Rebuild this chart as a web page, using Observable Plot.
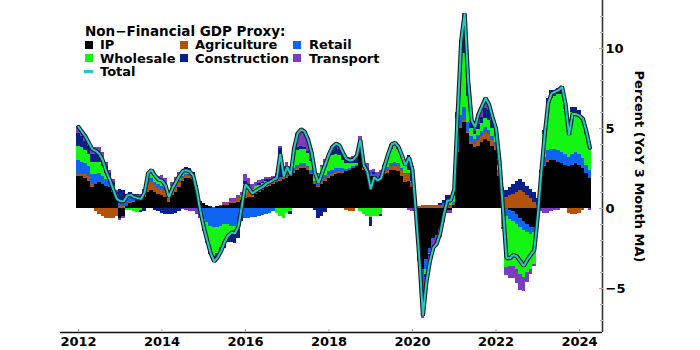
<!DOCTYPE html>
<html><head><meta charset="utf-8">
<script src="https://cdn.jsdelivr.net/npm/d3@7"></script>
<script src="https://cdn.jsdelivr.net/npm/@observablehq/plot@0.6"></script>
<style>
body{margin:0;background:#fff;}
#wrap{position:relative;width:700px;height:350px;font-family:"DejaVu Sans",sans-serif;font-weight:bold;color:#000;}
#wrap svg{position:absolute;left:0;top:0;}
.lg{position:absolute;font-size:13px;line-height:13px;height:13px;white-space:nowrap;}
.sw{position:absolute;width:8px;height:8px;}
</style></head>
<body><div id="wrap"></div>
<script>
// Monthly, Jan 2012 .. Apr 2024 (percent contribution, YoY 3-month MA)
const startYear = 2012;
const seriesNames = ["IP","Agriculture","Retail","Wholesale","Construction","Transport"];
const seriesColors = ["#000000","#b3520a","#0d63f2","#14f514","#0a1f8c","#7a3dbf"];
const totalColor = "#22c8c8";
const yearTicks = [2012,2014,2016,2018,2020,2022,2024];
const yMajorTicks = [-5,0,5,10];
const yMinorTicks = [-7,-6,-4,-3,-2,-1,1,2,3,4,6,7,8,9,11,12];
const yLabel = "Percent (YoY 3 Month MA)";

const ip = [
 2.0,2.0,1.9,1.7,1.3,1.5,1.6,1.5,1.4,1.3,1.0,0.7,
 -0.6,-0.5,0.1,0.3,0.4,0.5,0.5,0.7,1.0,1.1,1.0,0.9,
 0.8,0.7,0.4,0.8,1.0,1.3,1.7,1.9,1.9,1.8,1.2,0.4,
 0.3,0.2,0.1,0.0,0.1,0.1,0.2,0.2,0.3,0.3,0.4,0.5,
 0.6,0.7,0.7,0.9,1.0,1.1,1.3,1.4,1.5,1.6,1.7,1.8,
 1.9,2.0,2.2,2.4,2.5,2.5,2.4,2.1,1.5,1.3,1.5,1.7,
 1.9,2.0,2.1,2.2,2.2,2.3,2.4,2.5,2.6,3.6,2.4,2.2,
 2.0,2.0,1.9,2.0,2.1,2.2,2.4,2.4,2.3,2.0,1.6,1.7,
 1.3,-0.3,-2.5,-3.8,-3.2,-2.5,-1.9,-1.7,-1.3,-0.6,-0.1,-0.1,
 0.2,3.5,5.0,5.4,4.7,4.0,3.8,3.9,4.1,4.3,4.2,3.9,
 3.6,2.0,0.3,0.0,-0.1,-0.2,-0.4,-0.6,-0.8,-1.0,-1.2,-1.2,
 -0.4,1.3,2.6,2.9,3.0,3.0,2.9,2.8,2.7,2.6,2.7,2.8,
 2.7,2.5,2.2,1.9];
const agriculture = [
 0.1,0.1,0.2,0.3,0.2,-0.2,-0.4,-0.5,-0.6,-0.6,-0.6,-0.5,
 0.1,0.1,0.05,0.05,0.05,0.05,0.1,0.3,0.5,0.5,0.45,0.4,
 0.4,0.4,0.3,0.3,0.3,0.3,0.2,0.15,0.1,0.1,0.05,0.0,
 0.0,0.0,0.0,0.05,0.05,0.05,0.1,0.1,0.15,0.15,0.2,0.2,
 0.3,0.3,0.2,0.2,0.15,0.15,0.15,0.1,0.1,0.1,0.1,0.15,
 0.15,0.1,0.1,0.1,0.1,0.1,0.1,0.1,0.1,0.1,0.15,0.15,
 0.15,0.15,0.15,0.1,0.1,-0.1,-0.2,-0.2,0.0,0.1,0.1,0.1,
 0.05,0.05,0.05,0.1,0.15,0.2,0.25,0.3,0.35,0.4,0.5,0.4,
 0.2,0.1,0.1,0.2,0.2,0.2,0.2,0.2,0.2,0.2,0.15,0.1,
 0.1,0.1,0.1,0.1,0.1,0.2,0.2,0.35,0.4,0.45,0.4,0.35,
 0.3,0.3,0.5,0.7,0.8,0.9,1.0,1.1,1.0,0.8,0.6,0.4,
 0.2,0.1,0.1,0.1,0.0,0.0,0.0,0.0,0.0,-0.3,-0.4,-0.4,
 -0.3,-0.1,0.0,0.0];
const retail = [
 0.9,0.8,0.7,0.6,0.6,0.6,0.6,0.5,0.4,0.4,0.3,0.2,
 0.4,0.4,0.4,0.35,0.3,0.25,0.2,0.2,0.3,0.25,0.2,0.2,
 0.2,0.2,0.1,0.1,0.15,0.15,0.1,0.1,0.1,0.05,-0.1,-0.4,
 -0.7,-0.9,-1.1,-1.2,-1.2,-1.1,-1.0,-1.0,-1.1,-1.1,-1.0,-0.5,
 -0.6,-0.6,-0.55,-0.55,-0.5,-0.45,-0.4,-0.3,-0.2,0.1,0.15,0.15,
 0.2,0.2,0.2,0.2,0.2,0.2,0.15,0.15,0.1,0.15,0.2,0.2,
 0.25,0.25,0.25,0.2,0.2,0.15,0.1,0.1,0.1,0.1,0.1,0.1,
 0.05,0.1,0.1,0.1,0.1,0.15,0.15,0.15,0.15,0.1,0.1,0.1,
 0.1,0.1,-0.3,-1.2,-0.6,-0.3,-0.1,0.0,0.0,0.1,0.1,0.1,
 0.1,0.5,0.7,0.8,0.6,0.3,0.3,0.3,0.3,0.3,0.3,0.25,
 0.2,0.1,-0.3,-0.5,-0.6,-0.6,-0.6,-0.6,-0.6,-0.5,-0.4,-0.3,
 -0.1,0.3,0.5,0.6,0.7,0.7,0.7,0.7,0.7,0.6,0.7,0.7,
 0.7,0.6,0.5,0.5];
const wholesale = [
 0.9,0.9,0.8,0.8,0.8,0.8,0.7,0.6,0.4,0.2,0.1,0.0,
 0.0,0.0,-0.1,-0.15,-0.2,-0.25,-0.15,0.0,0.3,0.35,0.3,0.3,
 0.3,0.2,0.1,0.2,0.3,0.4,0.4,0.3,0.3,0.2,0.1,0.0,
 -0.6,-1.0,-1.5,-1.8,-1.6,-1.35,-1.05,-0.7,-0.5,-0.4,-0.3,0.1,
 0.6,0.4,0.3,0.3,0.3,0.3,0.25,0.2,0.1,-0.3,-0.5,-0.6,
 -0.3,-0.2,0.6,0.9,0.9,0.9,0.8,0.6,0.4,0.6,0.7,0.8,
 0.8,0.9,0.9,0.8,0.5,0.35,0.3,0.2,0.1,-0.2,-0.4,-0.5,
 -0.55,-0.5,-0.5,-0.4,0.2,0.6,0.9,1.0,0.9,0.7,0.4,0.2,
 0.1,0.0,-0.2,-0.8,-0.3,-0.1,0.0,0.0,0.0,0.0,0.2,0.3,
 0.6,1.5,3.0,3.4,1.6,0.5,0.3,0.4,0.5,0.6,0.6,0.5,
 0.4,0.3,-0.9,-3.2,-2.9,-2.8,-2.8,-2.9,-2.9,-2.5,-2.2,-2.0,
 -0.6,0.5,1.4,2.8,3.2,3.3,3.5,3.6,2.8,1.6,2.6,2.5,
 2.4,2.3,1.9,1.4];
const construction = [
 0.8,0.7,0.6,0.5,0.5,0.5,0.5,0.5,0.4,0.3,0.2,0.1,
 0.7,0.6,0.35,0.3,0.15,0.05,-0.1,-0.2,0.0,0.1,-0.1,-0.2,
 -0.3,-0.4,-0.4,-0.35,-0.3,-0.2,0.0,0.1,0.1,0.1,0.1,0.05,
 -0.1,-0.2,-0.3,-0.35,-0.4,-0.4,-0.45,-0.4,-0.5,-0.7,-0.6,-0.3,
 0.2,0.1,0.0,0.0,0.1,0.1,0.1,0.1,0.15,0.25,1.8,0.3,
 0.4,-0.2,0.2,0.2,0.15,0.1,0.1,0.1,-0.1,-0.6,-0.5,-0.25,
 0.1,0.3,0.4,0.4,0.35,0.3,0.3,0.35,0.4,0.4,0.2,0.1,
 -0.6,0.1,0.0,-0.1,0.0,0.1,0.15,0.15,0.15,0.1,0.1,0.9,
 0.9,0.0,-0.1,-0.5,-0.2,-0.1,0.0,0.0,0.1,0.2,0.35,0.3,
 0.2,0.4,1.6,2.3,0.8,0.3,0.2,0.3,0.4,0.6,0.6,0.5,
 0.4,0.3,0.5,0.4,0.5,0.6,0.7,0.7,0.6,0.6,0.6,0.6,
 0.4,0.2,0.3,0.5,0.5,0.4,0.4,0.5,0.3,0.1,0.3,0.3,
 0.3,0.3,0.2,0.1];
const transport = [
 0.4,0.3,0.3,0.2,0.3,0.4,0.4,0.4,0.3,0.2,0.2,0.1,
 -0.15,-0.15,0.0,0.0,0.0,0.05,0.05,0.0,0.1,0.1,0.2,0.2,
 0.35,0.35,0.2,0.2,0.2,0.1,-0.05,-0.15,-0.2,-0.2,-0.25,-0.2,
 -0.05,-0.1,0.0,0.0,0.0,0.05,0.1,0.1,0.15,0.2,0.2,0.2,
 0.4,0.35,0.3,0.25,0.2,0.15,0.15,0.15,0.15,0.15,0.15,0.2,
 0.25,0.2,0.5,0.9,1.1,1.0,0.75,0.45,0.2,0.05,0.15,0.2,
 0.2,0.25,0.25,0.25,0.15,0.1,0.1,0.1,0.1,0.3,0.3,0.3,
 0.25,0.2,0.2,0.2,0.15,0.15,0.15,0.1,0.0,0.0,0.0,-0.1,
 -0.2,-0.2,-0.2,-0.6,-0.5,-0.5,-0.65,-0.7,-0.5,-0.3,-0.2,-0.2,
 0.0,0.0,0.1,0.2,0.2,0.2,0.3,0.65,0.7,0.65,0.4,0.2,
 0.1,0.0,-0.1,-0.5,-0.8,-0.8,-0.9,-1.0,-0.9,-0.6,-0.3,-0.1,
 0.0,-0.2,-0.3,-0.3,-0.2,-0.1,-0.1,0.0,0.0,0.0,0.0,0.0,
 0.0,0.0,0.0,-0.1];

const seriesValues = [ip, agriculture, retail, wholesale, construction, transport];
const n = ip.length;
const long = [];
for (let i = 0; i < n; i++) {
  seriesNames.forEach((s, k) => long.push({t: startYear + i / 12, series: s, value: seriesValues[k][i]}));
}
const totals = d3.range(n).map(i => ({t: startYear + i / 12, total: d3.sum(seriesValues, s => s[i])}));

const xDomain = [2011.569, 2024.551];
const yDomain = [-7.75, 13];
const half = 1 / 24;

const chart = Plot.plot({
  width: 700, height: 350,
  marginLeft: 60, marginRight: 98, marginTop: 0, marginBottom: 18,
  x: {domain: xDomain, label: null},
  y: {domain: yDomain, label: null},
  color: {domain: seriesNames, range: seriesColors},
  style: {fontFamily: "'DejaVu Sans', sans-serif", fontWeight: "bold", fontSize: "13px", background: "white", color: "#000"},
  marks: [
    Plot.rectY(long, {x: "t", x1: d => d.t - half, x2: d => d.t + half, y: "value", fill: "series", order: seriesNames, shapeRendering: "crispEdges"}),
    Plot.line(totals, {x: "t", y: "total", stroke: "#1c1c1c", strokeWidth: 4.2, strokeLinejoin: "miter"}),
    Plot.line(totals, {x: "t", y: "total", stroke: totalColor, strokeWidth: 2, strokeLinejoin: "miter"}),
    Plot.ruleY([yDomain[0]], {stroke: "#111", strokeWidth: 1.6}),
    Plot.ruleX([xDomain[1]], {stroke: "#333", strokeWidth: 1.6}),
    Plot.axisX({ticks: yearTicks, tickSize: 0, tickPadding: 4, tickFormat: d => String(d), fontWeight: "bold", fontSize: 13}),
    Plot.axisX({ticks: yearTicks, tickSize: 3, dy: -3, tickFormat: () => "", stroke: "#aaa"}),
    Plot.axisY({anchor: "right", ticks: yMajorTicks, tickSize: 0, tickPadding: 3, tickFormat: d => d < 0 ? "\u2212" + (-d) : String(d), fontWeight: "bold", fontSize: 13}),
    Plot.axisY({anchor: "right", ticks: yMajorTicks, tickSize: 4, dx: -4, tickFormat: () => "", stroke: "#aaa"}),
    Plot.axisY({anchor: "right", ticks: yMinorTicks, tickSize: 3, dx: -3, tickFormat: () => "", stroke: "#bbb"}),
    Plot.text([yLabel], {frameAnchor: "right", dx: 37, rotate: 90, text: d => d, textAnchor: "middle", lineAnchor: "middle", fontSize: 13, fontWeight: "bold", fill: "#000"})
  ]
});

const wrap = document.getElementById("wrap");
wrap.appendChild(chart);

// Legend overlay
function addText(txt, left, cy, size) {
  const el = document.createElement("div");
  el.className = "lg";
  el.textContent = txt;
  el.style.left = left + "px";
  el.style.top = (cy - 6.5) + "px";
  if (size) el.style.fontSize = size + "px";
  wrap.appendChild(el);
}
function addSwatch(color, left, cy, w, h) {
  const el = document.createElement("div");
  el.className = "sw";
  el.style.background = color;
  el.style.left = left + "px";
  el.style.top = (cy - h / 2) + "px";
  el.style.width = w + "px";
  el.style.height = h + "px";
  wrap.appendChild(el);
}
addText("Non\u2212Financial GDP Proxy:", 85, 31, 13.5);
const legendCols = [[85, 100], [180, 195], [293, 309]];
const legendRows = [44.5, 58, 71.5];
// column-major fill like the reference: IP, Wholesale, Total | Agriculture, Construction | Retail, Transport
const legendItems = [
  ["IP", 0, 0], ["Wholesale", 0, 1], ["Agriculture", 1, 0], ["Construction", 1, 1], ["Retail", 2, 0], ["Transport", 2, 1]
];
legendItems.forEach(([name, c, r]) => {
  addSwatch(seriesColors[seriesNames.indexOf(name)], legendCols[c][0], legendRows[r], 8, 8);
  addText(name, legendCols[c][1], legendRows[r]);
});
addSwatch(totalColor, legendCols[0][0] - 1, legendRows[2], 9, 3);
addText("Total", legendCols[0][1], legendRows[2]);
</script>
</body></html>
